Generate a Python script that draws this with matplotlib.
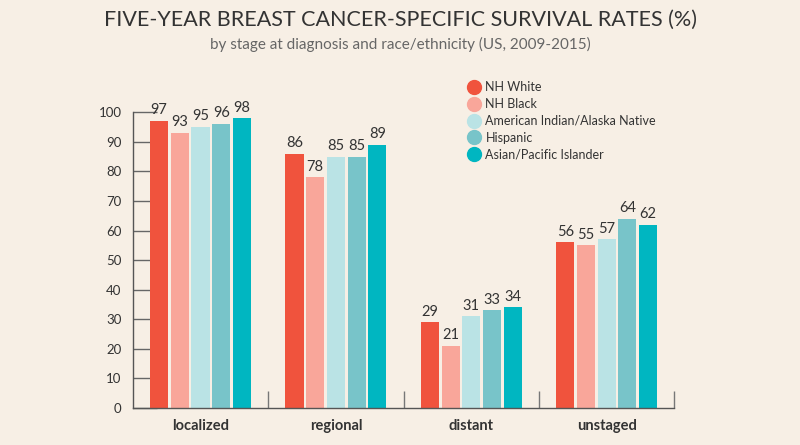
import matplotlib.pyplot as plt
import numpy as np
from matplotlib.lines import Line2D

plt.rcParams["font.family"] = ["Lato", "DejaVu Sans"]

stages = ["localized", "regional", "distant", "unstaged"]
groups = ["NH White", "NH Black", "American Indian/Alaska Native",
          "Hispanic", "Asian/Pacific Islander"]
colors = ["#F0533D", "#F9A69A", "#BAE3E5", "#78C4C9", "#00B6C1"]

nh_white = [97, 86, 29, 56]
nh_black = [93, 78, 21, 55]
aian = [95, 85, 31, 57]
hispanic = [96, 85, 33, 64]
asian_pi = [98, 89, 34, 62]
series = [nh_white, nh_black, aian, hispanic, asian_pi]

yticks = list(range(0, 101, 10))

BG = "#F7EFE5"
TXT = "#333333"

fig = plt.figure(figsize=(8, 4.45), dpi=100, facecolor=BG)
ax = fig.add_axes([0.166, 0.083, 0.677, 0.665], facecolor=BG)

x = np.arange(len(stages)) + 0.5
step = 0.153
width = 0.134
for i, (vals, col, name) in enumerate(zip(series, colors, groups)):
    pos = x + (i - 2) * step
    bars = ax.bar(pos, vals, width=width, color=col, label=name, zorder=2)
    for b, v in zip(bars, vals):
        ax.text(b.get_x() + b.get_width() / 2, v + 1.2, str(v),
                ha="center", va="bottom", fontsize=10.5, color=TXT)

ax.set_xlim(0, 4)
ax.set_ylim(0, 100)
ax.set_yticks(yticks)
ax.tick_params(axis="y", direction="in", length=17, width=1, color="#666666",
               labelsize=9.5, labelcolor=TXT, pad=8)
ax.set_xticks(x)
ax.set_xticklabels(stages, fontsize=10.5, fontweight="bold", color=TXT)
ax.tick_params(axis="x", length=0, pad=8)
ax.set_xticks([1, 2, 3, 4], minor=True)
ax.tick_params(axis="x", which="minor", direction="in", length=12,
               width=1, color="#777777")

for s in ["top", "right"]:
    ax.spines[s].set_visible(False)
for s in ["left", "bottom"]:
    ax.spines[s].set_color("#555555")
    ax.spines[s].set_linewidth(1)

# round legend markers
handles = [Line2D([], [], marker="o", linestyle="", markersize=10,
                  markerfacecolor=c, markeredgecolor=c) for c in colors]
ax.legend(handles, groups, loc="upper left", bbox_to_anchor=(0.605, 1.125),
          frameon=False, fontsize=9, handletextpad=0.3, labelspacing=0.38,
          labelcolor=TXT, borderpad=0, handlelength=1.2)

fig.text(0.5, 0.955, "FIVE-YEAR BREAST CANCER-SPECIFIC SURVIVAL RATES (%)",
         ha="center", va="center", fontsize=15.5, color=TXT)
fig.text(0.5, 0.9, "by stage at diagnosis and race/ethnicity (US, 2009-2015)",
         ha="center", va="center", fontsize=11, color="#666666")

fig.savefig("out.png", dpi=100, facecolor=BG)
